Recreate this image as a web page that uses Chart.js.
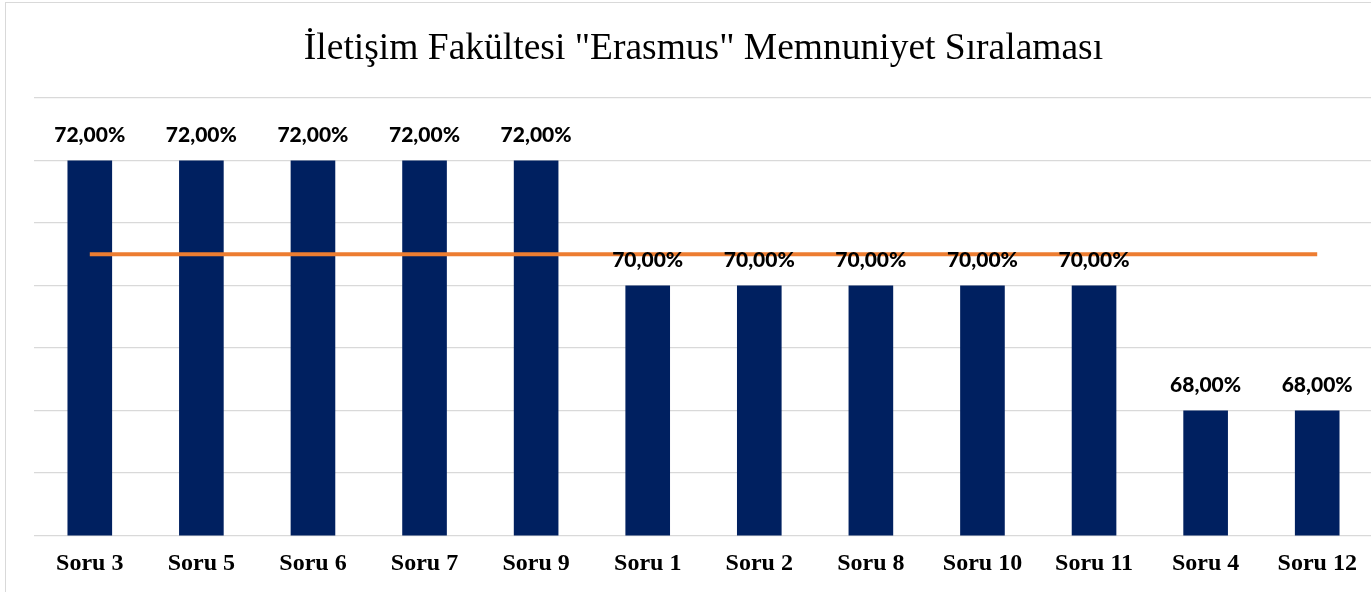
<!DOCTYPE html>
<html>
<head>
<meta charset="utf-8">
<script src="https://cdn.jsdelivr.net/npm/chart.js@4"></script>
<style>
  html, body { margin: 0; padding: 0; background: #fff; overflow: hidden; }
  #wrap { position: relative; width: 1373px; height: 592px; }
  #frame { position: absolute; left: 5px; top: 2px; width: 1400px; height: 620px; border: 1px solid #d9d9d9; box-sizing: border-box; }
  canvas { position: absolute; left: 0; top: 0; }
</style>
</head>
<body>
<div id="wrap">
  <div id="frame"></div>
  <canvas id="chart" width="1373" height="592"></canvas>
</div>
<script>
// Erasmus satisfaction ranking, sorted by score
const QUESTIONS = ['Soru 3', 'Soru 5', 'Soru 6', 'Soru 7', 'Soru 9', 'Soru 1',
                   'Soru 2', 'Soru 8', 'Soru 10', 'Soru 11', 'Soru 4', 'Soru 12'];
const SCORES    = [72, 72, 72, 72, 72, 70, 70, 70, 70, 70, 68, 68];
const AVERAGE   = [70.5, 70.5, 70.5, 70.5, 70.5, 70.5, 70.5, 70.5, 70.5, 70.5, 70.5, 70.5];

const fmtPct = v => v.toFixed(2).replace('.', ',') + '%';

// draws the value above each bar (no datalabels plugin available)
const barLabels = {
  id: 'barLabels',
  afterDatasetsDraw(chart) {
    const ctx = chart.ctx;
    const meta = chart.getDatasetMeta(1);
    ctx.save();
    ctx.font = '900 21px Lato';
    ctx.fillStyle = '#000';
    ctx.textAlign = 'center';
    ctx.textBaseline = 'middle';
    meta.data.forEach((bar, i) => {
      ctx.fillText(fmtPct(SCORES[i]), bar.x, bar.y - 25);
    });
    ctx.restore();
  }
};

new Chart(document.getElementById('chart').getContext('2d'), {
  type: 'bar',
  data: {
    labels: QUESTIONS,
    datasets: [
      { type: 'line', data: AVERAGE, borderColor: '#ed7d31', borderWidth: 4, pointRadius: 0, fill: false, order: 0 },
      { data: SCORES, backgroundColor: '#002060', barPercentage: 0.4, categoryPercentage: 1, order: 1 },
    ],
  },
  options: {
    responsive: false, animation: false,
    layout: { padding: { left: 34, right: 0, top: 0, bottom: 0.4 } },
    plugins: {
      legend: { display: false },
      tooltip: { enabled: false },
      title: {
        display: true,
        text: 'İletişim Fakültesi "Erasmus" Memnuniyet Sıralaması',
        color: '#000',
        font: { family: 'Liberation Serif', size: 37.5, weight: 'normal' },
        padding: { top: 27, bottom: 26 },
      },
    },
    scales: {
      x: {
        grid: { display: false, drawTicks: false },
        border: { display: false },
        ticks: { color: '#000', padding: 13.6, maxRotation: 0, font: { family: 'Liberation Serif', size: 24, weight: 'bold' } },
      },
      y: {
        min: 66, max: 73,
        grid: { color: '#d9d9d9', lineWidth: 1.3, drawTicks: false },
        border: { display: false },
        ticks: { display: false, stepSize: 1 },
      },
    },
  },
  plugins: [barLabels],
});
</script>
</body>
</html>
